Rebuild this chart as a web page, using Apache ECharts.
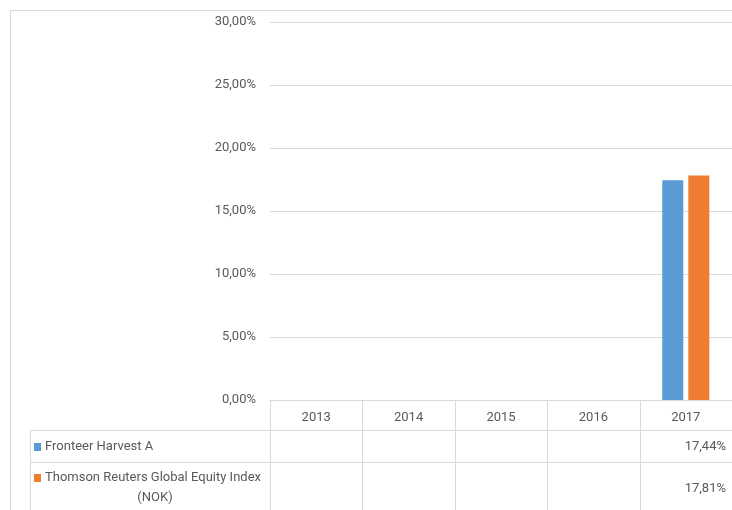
<!DOCTYPE html>
<html>
<head>
<meta charset="utf-8">
<script src="https://cdn.jsdelivr.net/npm/echarts@6/dist/echarts.min.js"></script>
<style>
  html, body { margin: 0; padding: 0; background: #fff; }
  #main { width: 732px; height: 510px; }
</style>
</head>
<body>
<div id="main"></div>
<script>
// data
var years = ['2013', '2014', '2015', '2016', '2017'];
var seriesNames = ['Fronteer Harvest A', 'Thomson Reuters Global Equity Index (NOK)'];
var fundValues = [null, null, null, null, 17.44];
var indexValues = [null, null, null, null, 17.81];
var colors = ['#5B9BD5', '#ED7D31'];

var FONT = "Roboto, 'Noto Sans', sans-serif";
var FS = 13;
var LINE = '#d9d9d9';
var TEXT = '#595959';

function pct(v) {
    return v.toFixed(2).replace('.', ',') + '%';
}

var chart = echarts.init(document.getElementById('main'));

var option = {
    animation: false,
    textStyle: { fontFamily: FONT },
    grid: { left: 270, right: -3, top: 22, bottom: 110 },
    xAxis: {
        type: 'category',
        data: years,
        axisTick: { show: false },
        axisLine: { lineStyle: { color: LINE } },
        axisLabel: { color: TEXT, fontSize: FS, fontFamily: FONT, margin: 11 }
    },
    yAxis: {
        type: 'value',
        min: 0,
        max: 30,
        interval: 5,
        axisLine: { show: false },
        axisTick: { show: false },
        splitLine: { lineStyle: { color: LINE } },
        axisLabel: {
            color: TEXT, fontSize: FS, fontFamily: FONT, margin: 14,
            formatter: function (v) { return pct(v); }
        }
    },
    series: [
        {
            name: seriesNames[0],
            type: 'bar',
            data: fundValues,
            barWidth: 21,
            barGap: '24%',
            itemStyle: { color: colors[0] }
        },
        {
            name: seriesNames[1],
            type: 'bar',
            data: indexValues,
            barWidth: 21,
            itemStyle: { color: colors[1] }
        }
    ]
};

chart.setOption(option);

// 数据表：列位置从坐标轴换算
var centers = years.map(function (y, i) {
    return chart.convertToPixel({ xAxisIndex: 0 }, i);
});
var band = centers[1] - centers[0];
var axisY = chart.convertToPixel({ yAxisIndex: 0 }, 0);
var rowTops = [axisY, axisY + 30, axisY + 62, axisY + 140];
var tableLeft = 30;
var tableRight = 732;

var els = [];
function line(x1, y1, x2, y2) {
    els.push({
        type: 'line',
        shape: { x1: x1, y1: y1, x2: x2, y2: y2 },
        style: { stroke: LINE, lineWidth: 1 },
        silent: true
    });
}
function text(str, x, y, align) {
    els.push({
        type: 'text',
        x: x, y: y,
        style: {
            text: str, fill: TEXT, font: FS + 'px ' + FONT,
            align: align || 'left', verticalAlign: 'middle'
        },
        silent: true
    });
}

// outer chart border (left + top)
line(10.5, 10, 10.5, 510);
line(10, 10.5, 732, 10.5);

// horizontal table lines
line(tableLeft, Math.round(rowTops[1]) + 0.5, tableRight, Math.round(rowTops[1]) + 0.5);
line(tableLeft, Math.round(rowTops[2]) + 0.5, tableRight, Math.round(rowTops[2]) + 0.5);
// left edge of row labels
line(tableLeft + 0.5, rowTops[1], tableLeft + 0.5, rowTops[3]);
// vertical column lines
for (var i = 0; i <= years.length; i++) {
    var x = Math.round(centers[0] - band / 2 + i * band) + 0.5;
    line(x, axisY, x, rowTops[3]);
}

// row headers with legend keys
var keyX = tableLeft + 4;
els.push({ type: 'rect', shape: { x: keyX, y: rowTops[1] + 13, width: 7, height: 8 }, style: { fill: colors[0] }, silent: true });
text(seriesNames[0], keyX + 11, rowTops[1] + 17, 'left');
els.push({ type: 'rect', shape: { x: keyX, y: rowTops[2] + 12, width: 7, height: 8 }, style: { fill: colors[1] }, silent: true });
text('Thomson Reuters Global Equity Index', keyX + 11, rowTops[2] + 16, 'left');
text('(NOK)', 155, rowTops[2] + 36, 'center');

// cell values
var rows = [fundValues, indexValues];
var rowMid = [rowTops[1] + 17, rowTops[2] + 27];
rows.forEach(function (vals, r) {
    vals.forEach(function (v, i) {
        if (v == null) return;
        text(pct(v), Math.round(centers[i] + band / 2) - 6, rowMid[r], 'right');
    });
});

chart.setOption({ graphic: { elements: els } });
</script>
</body>
</html>
